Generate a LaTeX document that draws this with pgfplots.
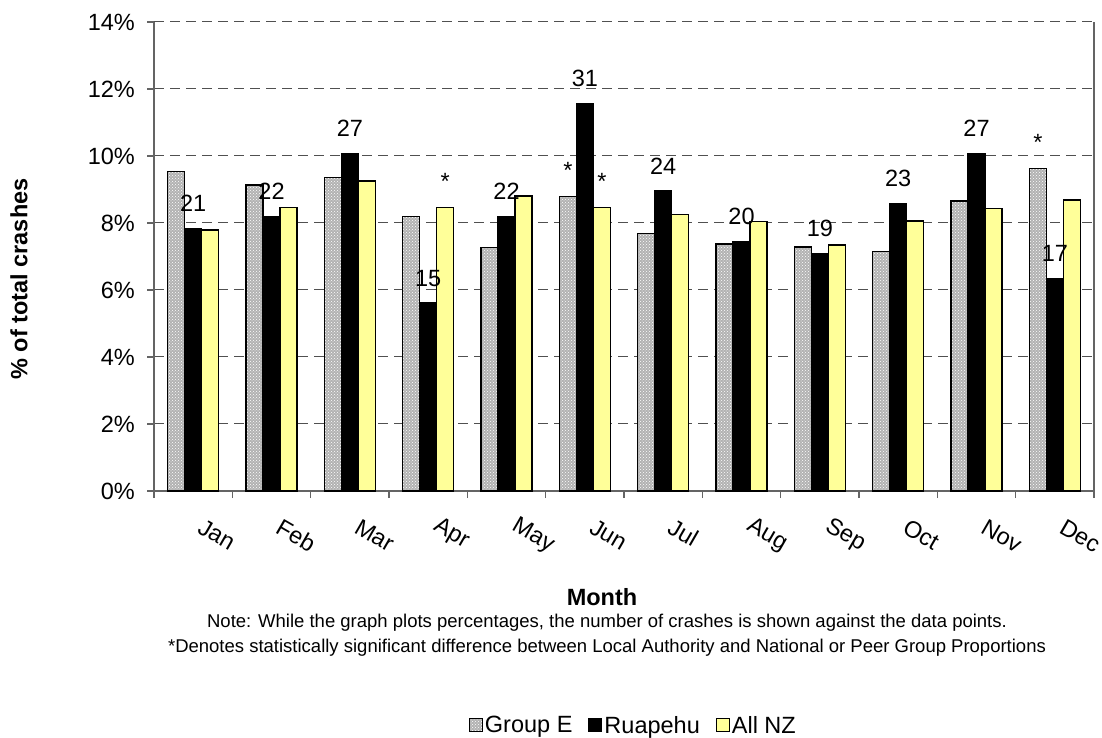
\documentclass[border=0pt]{standalone}
\usepackage{fontspec}
\setmainfont{Liberation Sans}
\usepackage{pgfplots}
\pgfplotsset{compat=1.18}
\usetikzlibrary{patterns}
\definecolor{nzyellow}{RGB}{255,255,153}
\definecolor{gridgray}{RGB}{80,80,80}
\definecolor{axgray}{RGB}{100,100,100}
\newcommand{\fs}{\fontsize{23.5}{26}\selectfont}
\begin{document}
\begin{tikzpicture}[x=1pt,y=1pt]
\useasboundingbox (0,0) rectangle (1102,738);
\begin{axis}[
  at={(154pt,247pt)}, anchor=south west,
  scale only axis, width=940pt, height=469pt,
  xmin=0, xmax=12, ymin=0, ymax=14,
  ybar, bar width=17pt,
  axis x line*=bottom, axis y line*=left,
  axis line style={axgray, line width=1.2pt},
  xtick={0,...,12}, x tick label as interval,
  xticklabels={Jan,Feb,Mar,Apr,May,Jun,Jul,Aug,Sep,Oct,Nov,Dec},
  ytick={0,2,...,14},
  yticklabel={\pgfmathprintnumber{\tick}\%},
  /pgf/number format/assume math mode=true,
  tick align=outside, major tick length=7pt,
  tick style={axgray, line width=1.2pt},
  ticklabel style={font=\fs},
  yticklabel style={anchor=east, inner sep=0pt, xshift=-12pt},
  xticklabel style={inner sep=0pt, anchor=west, xshift=7pt, yshift=-27pt, rotate=-30},
  ymajorgrids, major grid style={gridgray, dash pattern=on 10pt off 6pt, line width=1pt},
  point meta=explicit symbolic,
  every node near coord/.append style={font=\fs, anchor=center, yshift=25pt},
  legend columns=3,
  legend style={draw=none, fill=none, font=\fs, at={(0.51,-0.50)}, anchor=center,
    /tikz/every even column/.append style={column sep=14pt}},
  legend image code/.code={\draw[#1, line width=1pt] (0pt,-6pt) rectangle (13pt,7pt);},
  clip=false,
]
\addplot[draw=black, line width=1.5pt, fill=gray!60, postaction={pattern=crosshatch dots, pattern color=white}, bar shift=-17pt] coordinates {
(0.5,9.53) (1.5,9.13) (2.5,9.36) (3.5,8.19) (4.5,7.27) (5.5,8.79) (6.5,7.68) (7.5,7.37) (8.5,7.28) (9.5,7.15) (10.5,8.66) (11.5,9.63)};
\addlegendentry{Group E}
\addplot[draw=black, line width=1.5pt, fill=black, bar shift=0pt, nodes near coords] coordinates {
(0.5,7.84)[21] (1.5,8.20)[22] (2.5,10.08)[27] (3.5,5.61)[15] (4.5,8.20)[22] (5.5,11.57)[31] (6.5,8.95)[24] (7.5,7.45)[20] (8.5,7.08)[19] (9.5,8.58)[23] (10.5,10.08)[27] (11.5,6.35)[17]};
\addlegendentry{Ruapehu}
\addplot[draw=black, line width=1.5pt, fill=nzyellow, bar shift=17pt] coordinates {
(0.5,7.79) (1.5,8.47) (2.5,9.25) (3.5,8.47) (4.5,8.80) (5.5,8.46) (6.5,8.26) (7.5,8.05) (8.5,7.35) (9.5,8.06) (10.5,8.44) (11.5,8.69)};
\addlegendentry{All NZ}
% significance stars
\addplot[forget plot, draw=none, fill=none, bar shift=-17pt, nodes near coords,
  every node near coord/.append style={yshift=1pt}] coordinates {
(5.5,8.79)[*] (11.5,9.63)[*]};
\addplot[forget plot, draw=none, fill=none, bar shift=17pt, nodes near coords,
  every node near coord/.append style={yshift=1pt}] coordinates {
(3.5,8.47)[*] (5.5,8.46)[*]};
\draw[axgray, line width=1.2pt] (rel axis cs:1,0) -- (rel axis cs:1,1);
\end{axis}
\node[rotate=90, font=\bfseries\fs] at (19,459) {\% of total crashes};
\node[font=\bfseries\fs] at (602,141) {Month};
\node[font=\fontsize{18.5}{25}\selectfont, align=center] at (607,102.5) {Note: While the graph plots percentages, the number of crashes is shown against the data points.\\*Denotes statistically significant difference between Local Authority and National or Peer Group Proportions};
\end{tikzpicture}
\end{document}
